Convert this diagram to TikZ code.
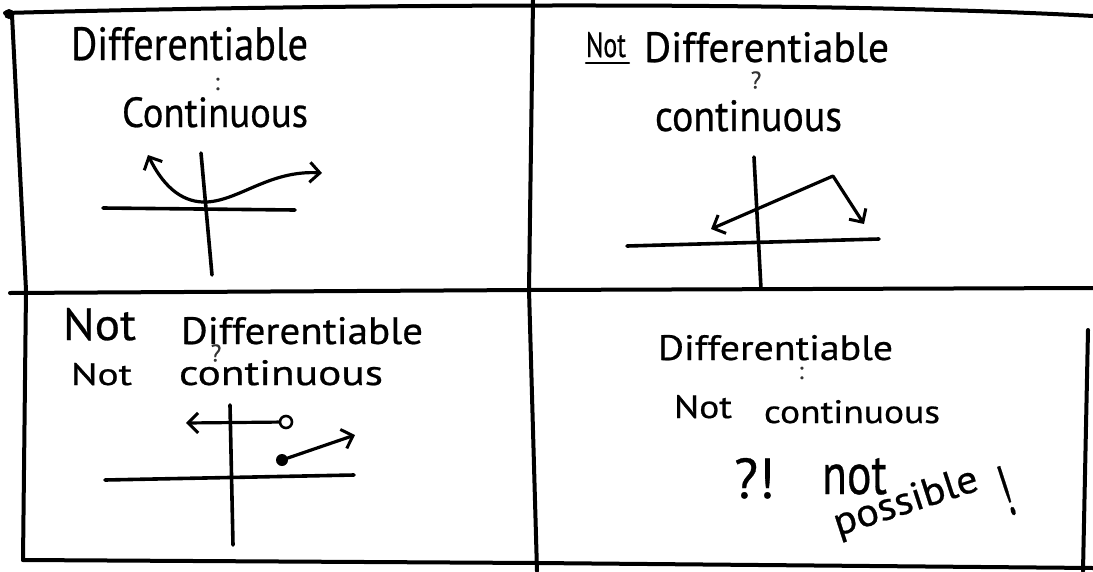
\documentclass[tikz,border=0pt]{standalone}
\usepackage{graphicx}
\usepackage{fontspec}
\setmainfont{PT Sans}[FakeBold=0.6]
\usetikzlibrary{arrows.meta}
\newcommand\hw[3]{\resizebox{#1pt}{#2pt}{#3}}
\begin{document}
\begin{tikzpicture}[x=1pt,y=-1pt,line cap=round,line join=round,
  frame/.style={line width=4pt},
  axis/.style={line width=3.6pt},
  graph/.style={line width=3.2pt},
  txt/.style={inner sep=0pt,outer sep=0pt,anchor=base west},
  mk/.style={inner sep=0pt,text=black!80,font=\fontsize{24}{24}\selectfont},
  tipb/.tip={Straight Barb[length=10pt,width=20pt,line width=3pt]},
  onearr/.style={-tipb},
  twoarr/.style={tipb-tipb}]
\useasboundingbox[fill=white] (0,0) rectangle (1093,571);
% ---------- frame ----------
\coordinate (tl) at (12,15);
\coordinate (ml) at (26,290);
\coordinate (bl) at (23,560);
\coordinate (mlx) at (10,293);
\coordinate (cc) at (529,290);
\coordinate (mr) at (1093,288);
\coordinate (tm) at (533,0);
\coordinate (bm) at (537,571);
\coordinate (bmc) at (537,563);
\coordinate (br) at (1093,568);
\coordinate (rt) at (1088,330);
\coordinate (rb) at (1083,571);
\coordinate (ts) at (5,13);
\coordinate (te) at (1093,16);
\draw[frame] (ts) .. controls (300,5) and (800,0) .. (te);
\fill (9,14) circle (5pt);
\draw[frame] (tl) -- (ml) -- (bl);
\draw[frame] (mlx) -- (cc) -- (mr);
\draw[frame] (tm) -- (cc) -- (bm);
\draw[frame] (bl) -- (bmc) -- (br);
\draw[frame] (rt) -- (rb);
% ---------- Q1 ----------
\node[txt] (d1) at (71,60) {\hw{237}{33}{Differentiable}};
\node[mk] (m1) at (217,84) {:};
\node[txt] (c1) at (122,127) {\hw{186}{30}{Continuous}};
\coordinate (q1hl) at (103,208);
\coordinate (q1hr) at (295,210);
\coordinate (q1vt) at (201,153);
\coordinate (q1vb) at (212,275);
\draw[axis] (q1hl) -- (q1hr);
\draw[axis] (q1vt) -- (q1vb);
\coordinate (q1a) at (148,155);
\coordinate (q1m) at (207,202);
\coordinate (q1b) at (322,173);
\draw[graph,twoarr] (q1a) .. controls (165,190) and (185,203) .. (q1m)
  .. controls (240,200) and (270,170) .. (q1b);
% ---------- Q2 ----------
\node[txt] (n2) at (586,57) {\hw{40}{25}{Not}};
\draw[line width=2.4pt] ([yshift=-6pt]n2.base west) -- ([yshift=-6pt,xshift=3pt]n2.base east);
\node[txt] (d2) at (644,62) {\hw{245}{30}{Differentiable}};
\node[mk] (m2) at (756,80) {?};
\node[txt] (c2) at (655,131) {\hw{187}{31}{continuous}};
\coordinate (q2vt) at (754,157);
\coordinate (q2vb) at (761,289);
\coordinate (q2hl) at (627,246);
\coordinate (q2hr) at (879,239);
\draw[axis] (q2vt) -- (q2vb);
\draw[axis] (q2hl) -- (q2hr);
\coordinate (q2a) at (711,229);
\coordinate (q2p) at (833,176);
\coordinate (q2b) at (864,224);
\draw[graph,twoarr] (q2a) -- (q2p) -- (q2b);
% ---------- Q3 ----------
\node[txt] (n3a) at (63,340) {\hw{73}{32}{Not}};
\node[txt] (d3) at (181,344) {\hw{242}{27}{Differentiable}};
\node[mk] (m3) at (216,353) {?};
\node[txt] (n3b) at (71,385) {\hw{61}{22}{Not}};
\node[txt] (c3) at (179,385) {\hw{204}{25}{continuous}};
\coordinate (q3vt) at (230,405);
\coordinate (q3vb) at (233,545);
\coordinate (q3hl) at (105,480);
\coordinate (q3hr) at (354,475);
\draw[axis] (q3vt) -- (q3vb);
\draw[axis] (q3hl) -- (q3hr);
\node[circle,draw,line width=2.6pt,minimum size=12pt,inner sep=0pt] (oc) at (286,422) {};
\coordinate (q3la) at (186,423);
\draw[graph,onearr] (oc) -- (q3la);
\node[circle,fill,minimum size=12pt,inner sep=0pt] (fd) at (282,460) {};
\coordinate (q3ra) at (355,435);
\draw[graph,onearr] (fd) -- (q3ra);
% ---------- Q4 ----------
\node[txt] (d4) at (658,360) {\hw{235}{25}{Differentiable}};
\node[mk] (m4) at (801,373) {:};
\node[txt] (n4) at (674,418) {\hw{58}{23}{Not}};
\node[txt] (c4) at (764,423) {\hw{176}{23}{continuous}};
\node[txt] (qe) at (734,498) {\hw{41}{40}{?!}};
\node[txt] (nt) at (822,494) {\hw{65}{36}{not}};
\node[txt,rotate=18] (ps) at (838,536) {\hw{150}{28}{possible}};
\node[inner sep=0pt,rotate=18] (ex) at (1006,491) {\hw{11}{50}{!}};
\end{tikzpicture}
\end{document}
